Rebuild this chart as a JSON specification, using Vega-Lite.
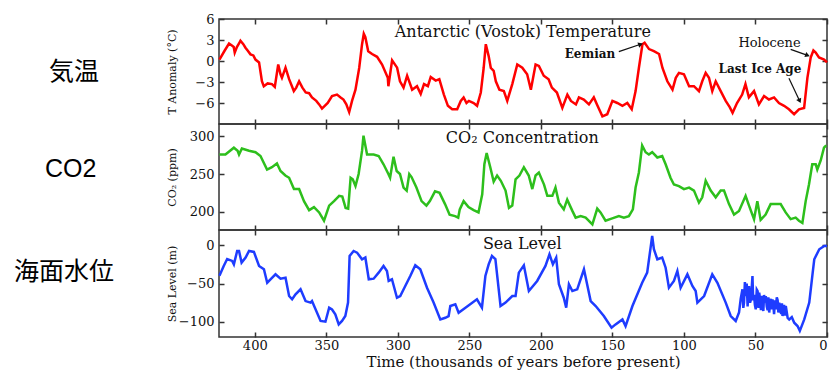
{
 "$schema": "https://vega.github.io/schema/vega-lite/v6.json",
 "padding": {"left": 13, "top": 12, "right": 0, "bottom": 0},
 "background": "white",
 "spacing": 0,
 "bounds": "flush",
 "config": {
   "view": {"stroke": "#333", "strokeWidth": 1.5},
   "axis": {"grid": false, "domain": false, "tickColor": "#333", "tickSize": -5, "tickWidth": 1.5, "labelPadding": 7, "labelFont": "DejaVu Serif", "labelFontSize": 13, "labelColor": "#111", "titleFont": "DejaVu Serif", "titleFontWeight": "normal", "titleColor": "#111", "titleFontSize": 11},
   "axisY": {"labelPadding": 10},
   "text": {"font": "DejaVu Serif", "color": "#111"}
 },
 "datasets": {
  "temp": [
   {"t":424.7,"v":0.2},{"t":421,"v":1.5},{"t":418,"v":2.5},{"t":416,"v":2.2},{"t":414.7,"v":2.0},{"t":414,"v":1.2},{"t":412.5,"v":2.0},{"t":411,"v":2.5},{"t":410,"v":2.9},{"t":408,"v":2.4},{"t":406.5,"v":1.9},{"t":405,"v":1.5},{"t":403,"v":0.95},{"t":401,"v":0.8},{"t":399.5,"v":0.2},{"t":397,"v":-0.2},{"t":395,"v":-2.9},{"t":393.7,"v":-3.6},{"t":391,"v":-3.2},{"t":388,"v":-3.3},{"t":386,"v":-3.7},{"t":383.6,"v":-0.5},{"t":382,"v":-1.9},{"t":381,"v":-2.4},{"t":378.5,"v":-0.95},{"t":376,"v":-2.6},{"t":374,"v":-3.6},{"t":372.7,"v":-4.3},{"t":371,"v":-3.8},{"t":369,"v":-2.9},{"t":366.7,"v":-3.8},{"t":364.4,"v":-4.5},{"t":362,"v":-4.6},{"t":360,"v":-5.2},{"t":357,"v":-5.7},{"t":355,"v":-6.2},{"t":353,"v":-6.8},{"t":349,"v":-6.0},{"t":346,"v":-5.0},{"t":342.5,"v":-4.8},{"t":340,"v":-5.2},{"t":338,"v":-5.5},{"t":336,"v":-6.2},{"t":334,"v":-7.3},{"t":332,"v":-5.7},{"t":329.6,"v":-4.1},{"t":327,"v":-1.0},{"t":325,"v":2.4},{"t":323.8,"v":3.9},{"t":322.7,"v":3.4},{"t":320.7,"v":1.4},{"t":318,"v":1.0},{"t":314.5,"v":0.6},{"t":311,"v":-0.5},{"t":307,"v":-2.4},{"t":306.6,"v":-3.6},{"t":304,"v":0.1},{"t":300.5,"v":-0.95},{"t":298.5,"v":-2.9},{"t":296,"v":-3.8},{"t":293.5,"v":-2.1},{"t":290,"v":-4.1},{"t":286.6,"v":-3.6},{"t":284,"v":-4.7},{"t":281.7,"v":-3.3},{"t":279,"v":-3.6},{"t":277,"v":-2.3},{"t":273.5,"v":-2.8},{"t":271,"v":-2.6},{"t":267.8,"v":-4.8},{"t":265,"v":-6.4},{"t":262,"v":-6.9},{"t":258.5,"v":-6.9},{"t":256,"v":-5.7},{"t":254,"v":-5.2},{"t":252,"v":-6.0},{"t":250.3,"v":-5.7},{"t":247,"v":-6.0},{"t":244.6,"v":-6.4},{"t":242,"v":-4.5},{"t":240,"v":-1.0},{"t":238.5,"v":2.4},{"t":236.5,"v":0.7},{"t":235,"v":-1.0},{"t":233,"v":-1.4},{"t":231.5,"v":-2.9},{"t":229,"v":-4.1},{"t":225.9,"v":-4.3},{"t":223.5,"v":-5.7},{"t":220,"v":-3.3},{"t":216.5,"v":-0.5},{"t":213,"v":-0.95},{"t":209.6,"v":-1.9},{"t":207,"v":-4.1},{"t":203.7,"v":-0.5},{"t":201.4,"v":-0.7},{"t":198,"v":-2.1},{"t":194.6,"v":-2.6},{"t":192.3,"v":-3.8},{"t":188.8,"v":-4.5},{"t":185,"v":-6.7},{"t":181.5,"v":-4.8},{"t":179,"v":-5.7},{"t":175.5,"v":-6.2},{"t":173.4,"v":-5.2},{"t":170,"v":-5.5},{"t":166.4,"v":-6.2},{"t":163,"v":-5.2},{"t":160.4,"v":-6.4},{"t":157,"v":-7.9},{"t":153.6,"v":-7.6},{"t":150,"v":-5.7},{"t":146.6,"v":-6.0},{"t":143,"v":-6.4},{"t":139.6,"v":-6.0},{"t":136.5,"v":-6.9},{"t":133.8,"v":-4.3},{"t":131.5,"v":-1.0},{"t":129,"v":2.4},{"t":127.5,"v":2.6},{"t":124.4,"v":1.7},{"t":121,"v":1.4},{"t":117.4,"v":1.0},{"t":115,"v":-1.0},{"t":111.6,"v":-2.9},{"t":108,"v":-4.1},{"t":105.7,"v":-2.4},{"t":103.5,"v":-1.7},{"t":100,"v":-1.9},{"t":96.4,"v":-3.6},{"t":93,"v":-3.6},{"t":89.5,"v":-4.3},{"t":87.2,"v":-2.9},{"t":84.8,"v":-1.7},{"t":82.5,"v":-2.4},{"t":80.2,"v":-4.3},{"t":77.8,"v":-2.9},{"t":74.3,"v":-4.3},{"t":70.8,"v":-5.7},{"t":68,"v":-6.6},{"t":66,"v":-7.4},{"t":62.9,"v":-6.0},{"t":59.3,"v":-4.8},{"t":57,"v":-3.3},{"t":54.6,"v":-5.2},{"t":51,"v":-4.3},{"t":47.6,"v":-6.2},{"t":44,"v":-5.0},{"t":40.6,"v":-5.5},{"t":37,"v":-5.2},{"t":33.6,"v":-6.0},{"t":30,"v":-6.4},{"t":26.6,"v":-6.9},{"t":23,"v":-7.6},{"t":19.6,"v":-6.9},{"t":16,"v":-6.7},{"t":13.7,"v":-2.4},{"t":11.4,"v":0.5},{"t":9.5,"v":1.5},{"t":7.9,"v":1.2},{"t":5.6,"v":0.5},{"t":2,"v":0.2},{"t":0,"v":-0.2}
  ],
  "co2": [
   {"t":424.7,"v":276},{"t":420.5,"v":276},{"t":414.6,"v":285},{"t":412,"v":281},{"t":411,"v":276},{"t":409,"v":284},{"t":404,"v":281},{"t":399.5,"v":279},{"t":396,"v":274},{"t":391.4,"v":256},{"t":388,"v":259},{"t":384.5,"v":264},{"t":382,"v":254},{"t":378.6,"v":248},{"t":376,"v":245},{"t":372.6,"v":230},{"t":369,"v":230},{"t":365.6,"v":214},{"t":362,"v":202},{"t":358.6,"v":206},{"t":355,"v":199},{"t":351.6,"v":188},{"t":348,"v":208},{"t":344.6,"v":214},{"t":341,"v":221},{"t":338.8,"v":220},{"t":336.5,"v":205},{"t":334.7,"v":204},{"t":333,"v":245},{"t":331.5,"v":243},{"t":329.6,"v":234},{"t":327.4,"v":250},{"t":325,"v":281},{"t":324,"v":301},{"t":322.7,"v":288},{"t":321.5,"v":276},{"t":316.9,"v":276},{"t":313.4,"v":274},{"t":310,"v":263},{"t":306.6,"v":250},{"t":305.4,"v":245},{"t":303,"v":273},{"t":300.8,"v":254},{"t":298.5,"v":250},{"t":296,"v":232},{"t":293.8,"v":228},{"t":292,"v":250},{"t":290.4,"v":246},{"t":287,"v":232},{"t":283.4,"v":214},{"t":280,"v":208},{"t":277.6,"v":214},{"t":274,"v":227},{"t":270.8,"v":225},{"t":267,"v":210},{"t":263.8,"v":196},{"t":260,"v":194},{"t":257.8,"v":192},{"t":256.7,"v":203},{"t":254,"v":214},{"t":250.6,"v":206},{"t":247,"v":202},{"t":243.6,"v":199},{"t":241,"v":223},{"t":239.5,"v":263},{"t":237.9,"v":278},{"t":235.5,"v":260},{"t":233,"v":240},{"t":230.6,"v":248},{"t":228,"v":241},{"t":224.7,"v":228},{"t":222.3,"v":205},{"t":220,"v":208},{"t":217.7,"v":243},{"t":215,"v":248},{"t":211.9,"v":259},{"t":208.5,"v":248},{"t":206,"v":230},{"t":203.7,"v":248},{"t":201.4,"v":252},{"t":197.8,"v":236},{"t":195.5,"v":221},{"t":192,"v":221},{"t":189.8,"v":232},{"t":187.4,"v":212},{"t":184,"v":203},{"t":181.6,"v":216},{"t":178,"v":201},{"t":175.7,"v":192},{"t":172.2,"v":194},{"t":168.7,"v":192},{"t":164,"v":183},{"t":160.6,"v":204},{"t":158.3,"v":199},{"t":154.8,"v":188},{"t":150.1,"v":191},{"t":145.5,"v":194},{"t":142,"v":192},{"t":138.5,"v":194},{"t":135.7,"v":203},{"t":133.8,"v":232},{"t":131.5,"v":252},{"t":129.2,"v":288},{"t":126.8,"v":279},{"t":124.5,"v":276},{"t":122.2,"v":279},{"t":118.6,"v":272},{"t":115.2,"v":274},{"t":112.8,"v":263},{"t":109.4,"v":245},{"t":107,"v":236},{"t":103.5,"v":234},{"t":100,"v":230},{"t":96.4,"v":232},{"t":93,"v":228},{"t":89.5,"v":212},{"t":87.2,"v":219},{"t":84.8,"v":241},{"t":81.3,"v":228},{"t":77.8,"v":219},{"t":74.3,"v":228},{"t":72,"v":228},{"t":68.5,"v":210},{"t":65,"v":196},{"t":61.5,"v":201},{"t":56.9,"v":221},{"t":54.5,"v":208},{"t":51,"v":190},{"t":48.7,"v":214},{"t":46.4,"v":189},{"t":42.9,"v":196},{"t":39.4,"v":210},{"t":32.4,"v":210},{"t":28.9,"v":199},{"t":25.4,"v":190},{"t":21.9,"v":192},{"t":19.6,"v":188},{"t":17.2,"v":185},{"t":14.9,"v":214},{"t":12.6,"v":236},{"t":10.3,"v":263},{"t":7.9,"v":263},{"t":6.8,"v":256},{"t":4.4,"v":268},{"t":2.1,"v":285},{"t":0.5,"v":288}
  ],
  "sea": [
   {"t":424.7,"v":-40},{"t":421.7,"v":-27},{"t":419.3,"v":-18},{"t":415.8,"v":-20.5},{"t":414.6,"v":-25},{"t":412.3,"v":-7.4},{"t":411,"v":-7.4},{"t":409.2,"v":-22.7},{"t":406.4,"v":-16},{"t":404,"v":-7.4},{"t":400.6,"v":-8.7},{"t":397,"v":-27},{"t":393.6,"v":-31.4},{"t":391.3,"v":-49},{"t":389,"v":-44.5},{"t":385.5,"v":-38},{"t":382,"v":-43.7},{"t":378.5,"v":-42.4},{"t":376,"v":-66.4},{"t":373.9,"v":-70.7},{"t":371.5,"v":-64.2},{"t":368,"v":-57.6},{"t":364.5,"v":-73},{"t":361,"v":-75},{"t":360,"v":-73},{"t":354,"v":-99},{"t":350.6,"v":-100},{"t":348,"v":-81.7},{"t":346,"v":-84},{"t":343.7,"v":-90.4},{"t":341.3,"v":-103.5},{"t":339,"v":-99},{"t":336.7,"v":-92.6},{"t":334.8,"v":-75},{"t":333.7,"v":-14},{"t":330.9,"v":-7.4},{"t":328.5,"v":-9.6},{"t":325,"v":-18.3},{"t":322.7,"v":-16},{"t":320.3,"v":-44.5},{"t":316.9,"v":-43.7},{"t":313.4,"v":-35.8},{"t":310,"v":-27},{"t":307.6,"v":-33.6},{"t":306.4,"v":-46.7},{"t":304.1,"v":-44.5},{"t":300.6,"v":-68.6},{"t":298.3,"v":-66.4},{"t":294.8,"v":-53.3},{"t":291.3,"v":-40.2},{"t":287.8,"v":-26.2},{"t":284.3,"v":-31.4},{"t":279.6,"v":-55.5},{"t":275,"v":-75},{"t":270.3,"v":-97},{"t":266.8,"v":-94.8},{"t":264.5,"v":-92.6},{"t":263.3,"v":-79.5},{"t":259.8,"v":-77.3},{"t":257.5,"v":-88.2},{"t":244.7,"v":-70.7},{"t":241.2,"v":-81.7},{"t":238.8,"v":-40.2},{"t":236.5,"v":-25},{"t":234.2,"v":-14},{"t":231.8,"v":-18},{"t":228.2,"v":-79.5},{"t":224.7,"v":-75},{"t":220,"v":-66.4},{"t":217.7,"v":-66.4},{"t":215.4,"v":-35.8},{"t":211.9,"v":-26.2},{"t":208.4,"v":-59.8},{"t":202.6,"v":-46.7},{"t":196.8,"v":-27},{"t":194,"v":-11.8},{"t":191.6,"v":-24.9},{"t":189.3,"v":-16.2},{"t":187.4,"v":-51},{"t":184,"v":-68.6},{"t":182.3,"v":-81.7},{"t":180.4,"v":-51},{"t":178,"v":-59.8},{"t":174.6,"v":-57.6},{"t":169.9,"v":-31.4},{"t":165.2,"v":-73},{"t":161.7,"v":-79.5},{"t":156,"v":-92.6},{"t":150.6,"v":-107.9},{"t":147.8,"v":-103.5},{"t":143,"v":-97},{"t":140.8,"v":-105.7},{"t":136,"v":-79.5},{"t":129.2,"v":-49},{"t":125.7,"v":-35.8},{"t":123.3,"v":-3},{"t":122.2,"v":12.2},{"t":121,"v":-5.2},{"t":118.6,"v":-18.3},{"t":115.2,"v":-16},{"t":112.8,"v":-29.3},{"t":110.5,"v":-55.5},{"t":107,"v":-46.7},{"t":104.6,"v":-33.6},{"t":102.3,"v":-55.5},{"t":97.6,"v":-38},{"t":94.1,"v":-53.3},{"t":91.8,"v":-59.8},{"t":90.6,"v":-75},{"t":85.9,"v":-66.4},{"t":80.2,"v":-38},{"t":76.6,"v":-49},{"t":70.8,"v":-75},{"t":67.3,"v":-92.6},{"t":63.8,"v":-99},{"t":61.5,"v":-88},{"t":60.3,"v":-70},{"t":59.1,"v":-57.6},{"t":58.5,"v":-82},{"t":58,"v":-75},{"t":57.4,"v":-48},{"t":56.8,"v":-66.4},{"t":56.1,"v":-50},{"t":55.5,"v":-80},{"t":55,"v":-60},{"t":54.5,"v":-53.3},{"t":53.8,"v":-75},{"t":53,"v":-70},{"t":52.6,"v":-55},{"t":52.1,"v":-40.2},{"t":51.6,"v":-72},{"t":51,"v":-65},{"t":50.4,"v":-78},{"t":49.8,"v":-83.8},{"t":49.1,"v":-58},{"t":48.5,"v":-60},{"t":47.9,"v":-82},{"t":47.4,"v":-62},{"t":46.8,"v":-70},{"t":46.2,"v":-85},{"t":45.6,"v":-66},{"t":45.1,"v":-79.5},{"t":44.5,"v":-86},{"t":44,"v":-65},{"t":43.4,"v":-75},{"t":42.8,"v":-66.4},{"t":42.1,"v":-80},{"t":41.5,"v":-85},{"t":41,"v":-68},{"t":40.4,"v":-88},{"t":39.8,"v":-76},{"t":39.2,"v":-70},{"t":38.6,"v":-84},{"t":38.1,"v":-70.7},{"t":37.5,"v":-78},{"t":37,"v":-90},{"t":36.4,"v":-72},{"t":35.8,"v":-83.8},{"t":35.1,"v":-68},{"t":34.5,"v":-72},{"t":34,"v":-88},{"t":33.4,"v":-75},{"t":32.7,"v":-84},{"t":32,"v":-90},{"t":31.5,"v":-76},{"t":31.1,"v":-92.6},{"t":30.5,"v":-85},{"t":30,"v":-78},{"t":29.4,"v":-92},{"t":28.8,"v":-79.5},{"t":28.1,"v":-88},{"t":27.5,"v":-95},{"t":26.4,"v":-97},{"t":24.6,"v":-94},{"t":22.9,"v":-101.3},{"t":20.6,"v":-105.7},{"t":19,"v":-112},{"t":15.9,"v":-97},{"t":12.4,"v":-75},{"t":10,"v":-35.8},{"t":8.9,"v":-18.3},{"t":5.4,"v":-5.2},{"t":1.9,"v":-0.9},{"t":0,"v":-0.9}
  ],
  "notes": [
   {"panel":1,"kind":"title","txt":"Antarctic (Vostok) Temperature","t":212.6,"v":4.1},
   {"panel":1,"kind":"bold","txt":"Eemian","t":165.7,"v":1.07},
   {"panel":1,"kind":"note","txt":"Holocene","t":40.2,"v":2.64},
   {"panel":1,"kind":"bold","txt":"Last Ice Age","t":46.9,"v":-1.14},
   {"panel":2,"kind":"title","txt":"CO₂ Concentration","t":213,"v":297.6},
   {"panel":3,"kind":"title","txt":"Sea Level","t":213,"v":1.7}
  ],
  "arrows": [
   {"name":"Eemian","t":145.5,"v":1.33,"t2":130.3,"v2":2.39},
   {"name":"Holocene","t":25.4,"v":1.67,"t2":13.6,"v2":0.81},
   {"name":"Last Ice Age","t":26.6,"v":-2.47,"t2":19.1,"v2":-5.71}
  ]
 },
 "vconcat": [
  {
   "width": 608, "height": 105,
   "title": {"text": "気温", "orient": "left", "angle": 0, "align": "center", "baseline": "middle", "anchor": "middle", "frame": "group", "offset": 42, "fontSize": 25, "font": "Liberation Sans, Noto Sans CJK JP", "fontWeight": "normal", "color": "#000"},
   "resolve": {"axis": {"x": "independent", "y": "independent"}},
   "layer": [
    {"data": {"name": "temp"}, "mark": {"type": "line", "color": "#ff0000", "strokeWidth": 2.5},
     "encoding": {
      "x": {"field": "t", "type": "quantitative", "scale": {"domain": [0, 425], "reverse": true, "nice": false, "zero": false}, "axis": {"orient": "bottom", "values": [0,50,100,150,200,250,300,350,400], "labels": false, "title": null}},
      "y": {"field": "v", "type": "quantitative", "scale": {"domain": [-9, 6], "nice": false, "zero": false}, "axis": {"orient": "left", "values": [-6,-3,0,3,6], "title": "T Anomaly (°C)", "titleX": -47, "titleBaseline": "middle"}}
     }},
    {"data": {"name": "notes"}, "transform": [{"filter": "datum.panel == 1 && datum.kind == 'title'"}], "mark": {"type": "text", "fontSize": 16},
     "encoding": {
      "x": {"field": "t", "type": "quantitative", "scale": {"domain": [0, 425], "reverse": true, "nice": false, "zero": false}, "axis": {"orient": "top", "values": [0,50,100,150,200,250,300,350,400], "labels": false, "title": null}},
      "y": {"field": "v", "type": "quantitative", "scale": {"domain": [-9, 6], "nice": false, "zero": false}, "axis": {"orient": "right", "values": [-6,-3,0,3,6], "labels": false, "title": null}},
      "text": {"field": "txt"}
     }},
    {"data": {"name": "notes"}, "transform": [{"filter": "datum.panel == 1 && datum.kind == 'note'"}], "mark": {"type": "text", "fontSize": 13},
     "encoding": {
      "x": {"field": "t", "type": "quantitative", "scale": {"domain": [0, 425], "reverse": true, "nice": false, "zero": false}, "axis": null},
      "y": {"field": "v", "type": "quantitative", "scale": {"domain": [-9, 6], "nice": false, "zero": false}, "axis": null},
      "text": {"field": "txt"}
     }},
    {"data": {"name": "notes"}, "transform": [{"filter": "datum.panel == 1 && datum.kind == 'bold'"}], "mark": {"type": "text", "fontSize": 12, "fontWeight": "bold"},
     "encoding": {
      "x": {"field": "t", "type": "quantitative", "scale": {"domain": [0, 425], "reverse": true, "nice": false, "zero": false}, "axis": null},
      "y": {"field": "v", "type": "quantitative", "scale": {"domain": [-9, 6], "nice": false, "zero": false}, "axis": null},
      "text": {"field": "txt"}
     }},
    {"data": {"name": "arrows"}, "mark": {"type": "rule", "color": "#111", "strokeWidth": 1.2},
     "encoding": {
      "x": {"field": "t", "type": "quantitative", "scale": {"domain": [0, 425], "reverse": true, "nice": false, "zero": false}, "axis": null},
      "y": {"field": "v", "type": "quantitative", "scale": {"domain": [-9, 6], "nice": false, "zero": false}, "axis": null},
      "x2": {"field": "t2"},
      "y2": {"field": "v2"}
     }},
    {"data": {"name": "arrows"}, "transform": [{"filter": "datum.name == 'Eemian'"}], "mark": {"type": "point", "shape": "triangle-right", "filled": true, "color": "#111", "size": 30, "angle": 341, "opacity": 1},
     "encoding": {
      "x": {"field": "t2", "type": "quantitative", "scale": {"domain": [0, 425], "reverse": true, "nice": false, "zero": false}, "axis": null},
      "y": {"field": "v2", "type": "quantitative", "scale": {"domain": [-9, 6], "nice": false, "zero": false}, "axis": null}
     }},
    {"data": {"name": "arrows"}, "transform": [{"filter": "datum.name == 'Holocene'"}], "mark": {"type": "point", "shape": "triangle-right", "filled": true, "color": "#111", "size": 30, "angle": 20, "opacity": 1},
     "encoding": {
      "x": {"field": "t2", "type": "quantitative", "scale": {"domain": [0, 425], "reverse": true, "nice": false, "zero": false}, "axis": null},
      "y": {"field": "v2", "type": "quantitative", "scale": {"domain": [-9, 6], "nice": false, "zero": false}, "axis": null}
     }},
    {"data": {"name": "arrows"}, "transform": [{"filter": "datum.name == 'Last Ice Age'"}], "mark": {"type": "point", "shape": "triangle-right", "filled": true, "color": "#111", "size": 30, "angle": 65, "opacity": 1},
     "encoding": {
      "x": {"field": "t2", "type": "quantitative", "scale": {"domain": [0, 425], "reverse": true, "nice": false, "zero": false}, "axis": null},
      "y": {"field": "v2", "type": "quantitative", "scale": {"domain": [-9, 6], "nice": false, "zero": false}, "axis": null}
     }}
   ]
  },
  {
   "width": 608, "height": 106,
   "title": {"text": "CO2", "orient": "left", "angle": 0, "align": "center", "baseline": "middle", "anchor": "middle", "frame": "group", "offset": 44, "dy": -8, "fontSize": 25, "font": "Liberation Sans, Noto Sans CJK JP", "fontWeight": "normal", "color": "#000"},
   "resolve": {"axis": {"x": "independent", "y": "independent"}},
   "layer": [
    {"data": {"name": "co2"}, "mark": {"type": "line", "color": "#2dbf1c", "strokeWidth": 2.5},
     "encoding": {
      "x": {"field": "t", "type": "quantitative", "scale": {"domain": [0, 425], "reverse": true, "nice": false, "zero": false}, "axis": {"orient": "bottom", "values": [0,50,100,150,200,250,300,350,400], "labels": false, "title": null}},
      "y": {"field": "v", "type": "quantitative", "scale": {"domain": [175.6, 316.5], "nice": false, "zero": false}, "axis": {"orient": "left", "values": [200,250,300], "title": "CO₂ (ppm)", "titleX": -47, "titleBaseline": "middle"}}
     }},
    {"data": {"name": "notes"}, "transform": [{"filter": "datum.panel == 2"}], "mark": {"type": "text", "fontSize": 16},
     "encoding": {
      "x": {"field": "t", "type": "quantitative", "scale": {"domain": [0, 425], "reverse": true, "nice": false, "zero": false}, "axis": {"orient": "top", "values": [0,50,100,150,200,250,300,350,400], "labels": false, "title": null}},
      "y": {"field": "v", "type": "quantitative", "scale": {"domain": [175.6, 316.5], "nice": false, "zero": false}, "axis": {"orient": "right", "values": [200,250,300], "labels": false, "title": null}},
      "text": {"field": "txt"}
     }}
   ]
  },
  {
   "width": 608, "height": 107,
   "title": {"text": "海面水位", "orient": "left", "angle": 0, "align": "center", "baseline": "middle", "anchor": "middle", "frame": "group", "offset": 2, "dy": -12, "fontSize": 25, "font": "Liberation Sans, Noto Sans CJK JP", "fontWeight": "normal", "color": "#000"},
   "resolve": {"axis": {"x": "independent", "y": "independent"}},
   "layer": [
    {"data": {"name": "sea"}, "mark": {"type": "line", "color": "#1e3cff", "strokeWidth": 2.5},
     "encoding": {
      "x": {"field": "t", "type": "quantitative", "scale": {"domain": [0, 425], "reverse": true, "nice": false, "zero": false}, "axis": {"orient": "bottom", "values": [0,50,100,150,200,250,300,350,400], "title": "Time (thousands of years before present)", "titleFontSize": 15, "titlePadding": 2}},
      "y": {"field": "v", "type": "quantitative", "scale": {"domain": [-120, 20], "nice": false, "zero": false}, "axis": {"orient": "left", "values": [-100,-50,0], "title": "Sea Level (m)", "titleX": -47, "titleBaseline": "middle"}}
     }},
    {"data": {"name": "notes"}, "transform": [{"filter": "datum.panel == 3"}], "mark": {"type": "text", "fontSize": 16},
     "encoding": {
      "x": {"field": "t", "type": "quantitative", "scale": {"domain": [0, 425], "reverse": true, "nice": false, "zero": false}, "axis": {"orient": "top", "values": [0,50,100,150,200,250,300,350,400], "labels": false, "title": null}},
      "y": {"field": "v", "type": "quantitative", "scale": {"domain": [-120, 20], "nice": false, "zero": false}, "axis": {"orient": "right", "values": [-100,-50,0], "labels": false, "title": null}},
      "text": {"field": "txt"}
     }}
   ]
  }
 ]
}
